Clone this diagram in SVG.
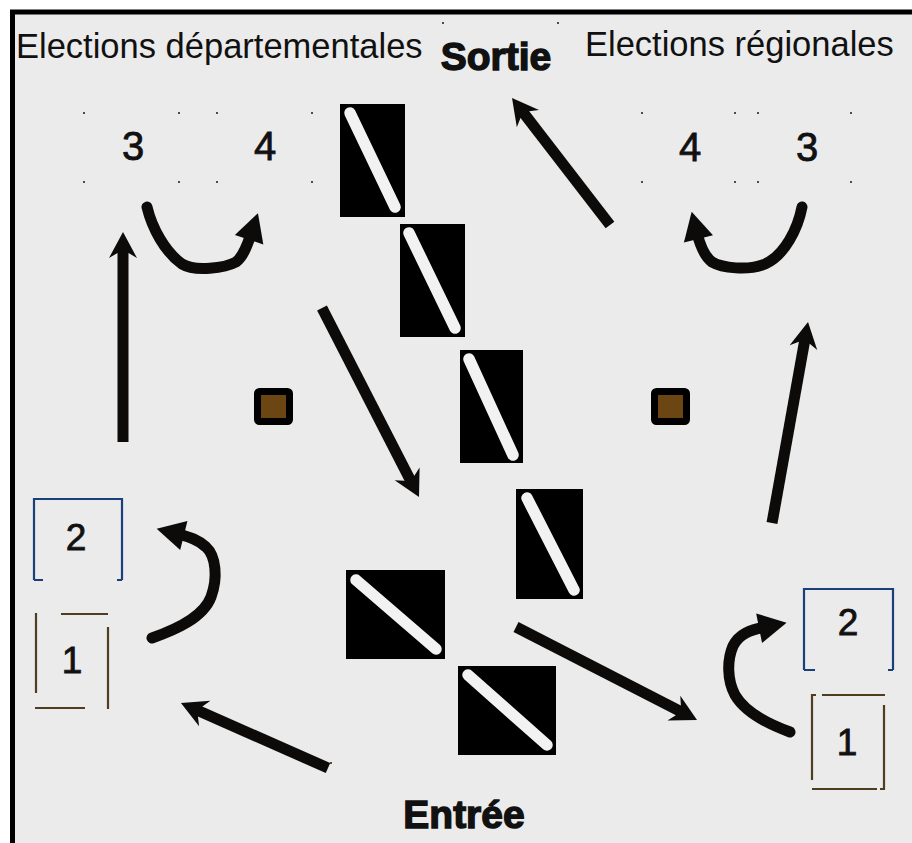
<svg xmlns="http://www.w3.org/2000/svg" width="912" height="843" viewBox="0 0 912 843">
<defs>
<style>
.lbl{font-family:"Liberation Sans",Arial,sans-serif;fill:#111;}
.title{font-size:34.5px;}
.big{font-size:39px;font-weight:bold;stroke:#111;stroke-width:1.4;}
.num{font-size:40px;text-anchor:middle;stroke:#111;stroke-width:0.8;}
.num2{font-size:37px;text-anchor:middle;stroke:#111;stroke-width:0.8;}
.dot{fill:#5a4a30;}
.tile{fill:#000;}
.bar{stroke:#f2f2f2;stroke-width:11.5;stroke-linecap:round;}
.bluebox{fill:none;stroke:#1b3f78;stroke-width:2.2;}
.brownbox{fill:none;stroke:#4e3d1e;stroke-width:2.2;}
.brown{fill:#6b4512;stroke:#000;stroke-width:7;}
.shaft{fill:none;stroke:#0d0a0a;stroke-width:11;}
.curve{fill:none;stroke:#0d0a0a;stroke-width:11;stroke-linecap:round;}
</style>
<marker id="chev" markerUnits="userSpaceOnUse" orient="auto" refX="0" refY="0" markerWidth="70" markerHeight="70" viewBox="-35 -35 70 70" overflow="visible">
<path d="M16,0 L-10,-14 L-5,-5.5 L-5,5.5 L-10,14 Z" fill="#0d0a0a"/>
</marker>
<marker id="tri" markerUnits="userSpaceOnUse" orient="auto" refX="0" refY="0" markerWidth="70" markerHeight="70" viewBox="-35 -35 70 70" overflow="visible">
<path d="M22,0 L-6,-15 L-6,15 Z" fill="#0d0a0a"/>
</marker>
</defs>
<rect x="0" y="0" width="912" height="843" fill="#ffffff"/>
<rect id="frame" x="12.5" y="12" width="920" height="860" fill="#ebebeb" stroke="#000" stroke-width="5"/>

<g id="artifacts">
<rect class="dot" x="442" y="22" width="2" height="2"/>
<rect class="dot" x="557" y="22" width="2" height="2"/>
<rect class="dot" x="330" y="762" width="2" height="2"/>
</g>

<g id="title-dep"><text class="lbl title" x="16" y="58">Elections départementales</text></g>
<g id="title-reg"><text class="lbl title" x="585" y="56">Elections régionales</text></g>
<g id="sortie"><text class="lbl big" x="496" y="70" text-anchor="middle">Sortie</text></g>
<g id="entree"><text class="lbl big" x="464" y="828" text-anchor="middle">Entrée</text></g>

<g id="dep-3">
<rect class="dot" x="83" y="112" width="2" height="2"/><rect class="dot" x="178" y="112" width="2" height="2"/>
<rect class="dot" x="83" y="181" width="2" height="2"/><rect class="dot" x="178" y="181" width="2" height="2"/>
<text class="lbl num" x="133" y="160">3</text>
</g>
<g id="dep-4">
<rect class="dot" x="216" y="112" width="2" height="2"/><rect class="dot" x="311" y="112" width="2" height="2"/>
<rect class="dot" x="216" y="181" width="2" height="2"/><rect class="dot" x="311" y="181" width="2" height="2"/>
<text class="lbl num" x="265" y="160">4</text>
</g>
<g id="reg-4">
<rect class="dot" x="641" y="112" width="2" height="2"/><rect class="dot" x="734" y="112" width="2" height="2"/>
<rect class="dot" x="641" y="181" width="2" height="2"/><rect class="dot" x="734" y="181" width="2" height="2"/>
<text class="lbl num" x="690" y="161">4</text>
</g>
<g id="reg-3">
<rect class="dot" x="757" y="112" width="2" height="2"/><rect class="dot" x="850" y="112" width="2" height="2"/>
<rect class="dot" x="757" y="181" width="2" height="2"/><rect class="dot" x="850" y="181" width="2" height="2"/>
<text class="lbl num" x="807" y="161">3</text>
</g>

<g id="dep-2">
<path class="bluebox" d="M34,580 V499 H122 V580 M34,580 H43 M117,580 H122"/>
<text class="lbl num2" x="76" y="550">2</text>
</g>
<g id="dep-1">
<path class="brownbox" d="M36,613 V693 M61,614 H108 M108,627 V709 M35,708 H85"/>
<text class="lbl num2" x="72" y="673">1</text>
</g>
<g id="reg-2">
<path class="bluebox" d="M804,670 V589 H893 V670 M804,670 H815 M888,670 H893"/>
<text class="lbl num2" x="848" y="635">2</text>
</g>
<g id="reg-1">
<path class="brownbox" d="M816,695 H812 V780 M822,695 H885 M884,705 V790 M812,789 H877 M880,789 H885"/>
<text class="lbl num2" x="847" y="755">1</text>
</g>

<g id="sq-left"><rect class="brown" x="257.5" y="391.5" width="32" height="30" rx="2"/></g>
<g id="sq-right"><rect class="brown" x="654.5" y="391.5" width="32" height="30" rx="2"/></g>

<g id="tile1"><rect class="tile" x="340" y="104" width="65" height="113"/><line class="bar" x1="350" y1="113" x2="395" y2="207"/></g>
<g id="tile2"><rect class="tile" x="400" y="224" width="65" height="113"/><line class="bar" x1="409" y1="233" x2="455" y2="328"/></g>
<g id="tile3"><rect class="tile" x="460" y="350" width="63" height="113"/><line class="bar" x1="469" y1="359" x2="513" y2="455"/></g>
<g id="tile4"><rect class="tile" x="516" y="489" width="67" height="110"/><line class="bar" x1="527" y1="498" x2="574" y2="590"/></g>
<g id="tile5"><rect class="tile" x="346" y="570" width="99" height="89"/><line class="bar" x1="356" y1="580" x2="436" y2="649"/></g>
<g id="tile6"><rect class="tile" x="458" y="666" width="98" height="89"/><line class="bar" x1="468" y1="675" x2="547" y2="745"/></g>

<g id="connectors">
<line class="shaft" x1="123" y1="442" x2="123" y2="248" marker-end="url(#chev)"/>
<line class="shaft" x1="772" y1="523" x2="805.2" y2="337.8" marker-end="url(#chev)"/>
<line class="shaft" x1="610" y1="225" x2="521.8" y2="110.7" marker-end="url(#chev)"/>
<line class="shaft" x1="322" y1="308" x2="411.7" y2="482.8" marker-end="url(#chev)"/>
<line class="shaft" x1="328" y1="768" x2="195.6" y2="709.5" marker-end="url(#chev)"/>
<line class="shaft" x1="516" y1="627" x2="682.8" y2="712.7" marker-end="url(#chev)"/>
<path class="curve" d="M147,207 C152,228 165,252 182,264 C195,272 225,268 236,262 C243,257 247,246 251,234" marker-end="url(#tri)"/>
<path class="curve" d="M802,207 C798,228 785,255 765,264 C748,271 722,268 712,262 C704,256 700,245 697,233" marker-end="url(#tri)"/>
<path class="curve" d="M152,638 C175,630 203,618 211,597 C218,578 216,556 206,547 C199,540 190,537 178,534" marker-end="url(#tri)"/>
<path class="curve" d="M790,732 C768,724 745,712 735,695 C727,680 727,660 733,646 C739,634 750,630 765,627" marker-end="url(#tri)"/>
</g>
</svg>
